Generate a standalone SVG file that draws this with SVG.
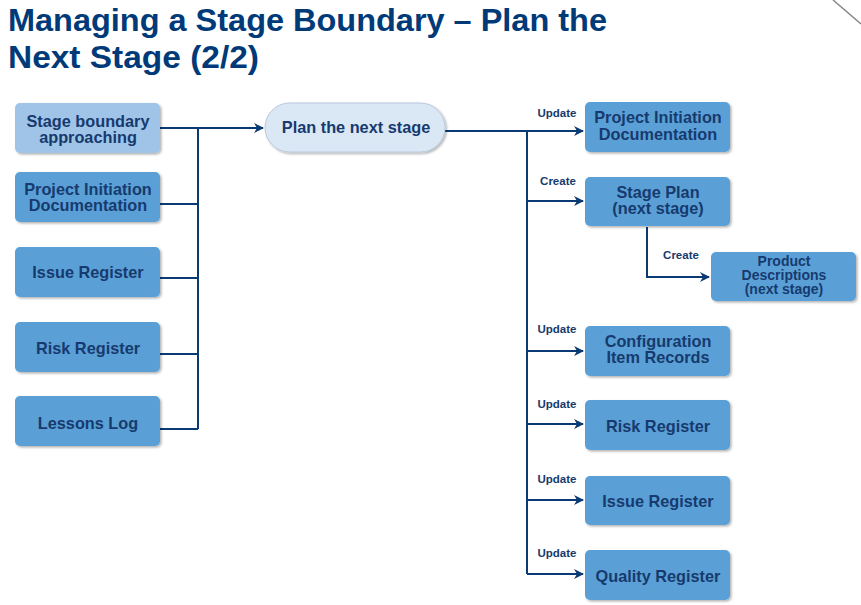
<svg xmlns="http://www.w3.org/2000/svg" width="861" height="605" viewBox="0 0 861 605">
<defs>
<filter id="sh" x="-10%" y="-10%" width="125%" height="130%">
<feDropShadow dx="1.5" dy="1.5" stdDeviation="1.2" flood-color="#000" flood-opacity="0.3"/>
</filter>
<marker id="ar" markerWidth="10" markerHeight="10" refX="9" refY="5" orient="auto" markerUnits="userSpaceOnUse">
<path d="M0,0 L10,5 L0,10 L3,5 Z" fill="#0a3a73"/>
</marker>
</defs>
<style>
.title{font-family:"Liberation Sans",Arial,sans-serif;font-weight:bold;font-size:31px;fill:#003a78}
.box{fill:#5aa0d6;filter:url(#sh)}
.lbox{fill:#9fc4e8;filter:url(#sh)}
.pill{fill:#dae7f4;stroke:#b8c9dc;stroke-width:1;filter:url(#sh)}
.t{font-family:"Liberation Sans",Arial,sans-serif;font-weight:bold;font-size:16.3px;fill:#173a6e;text-anchor:middle}
.ts{font-family:"Liberation Sans",Arial,sans-serif;font-weight:bold;font-size:14px;fill:#173a6e;text-anchor:middle}
.lab{font-family:"Liberation Sans",Arial,sans-serif;font-weight:bold;font-size:11.5px;fill:#173a6e;text-anchor:middle}
.c{fill:none;stroke:#0a3a73;stroke-width:2}
</style>
<rect width="861" height="605" fill="#fff"/>
<line x1="833" y1="0" x2="861" y2="24" stroke="#888" stroke-width="1.5"/>
<text class="title" x="8" y="31" textLength="599" lengthAdjust="spacingAndGlyphs">Managing a Stage Boundary – Plan the</text>
<text class="title" x="8" y="68" textLength="251" lengthAdjust="spacingAndGlyphs">Next Stage (2/2)</text>

<g id="connectors">
<path class="c" d="M160,128 H198 M160,204 H198 M160,278 H198 M160,354 H198 M160,429 H198 M198,128 V429"/>
<path class="c" d="M198,128 H263" marker-end="url(#ar)"/>
<path class="c" d="M445,131 H527 V574"/>
<path class="c" d="M527,131 H583" marker-end="url(#ar)"/>
<path class="c" d="M527,201 H583" marker-end="url(#ar)"/>
<path class="c" d="M527,351 H583" marker-end="url(#ar)"/>
<path class="c" d="M527,424 H583" marker-end="url(#ar)"/>
<path class="c" d="M527,500 H583" marker-end="url(#ar)"/>
<path class="c" d="M527,574 H583" marker-end="url(#ar)"/>
<path class="c" d="M647,227 V277 H709" marker-end="url(#ar)" stroke-width="1.5"/>
<text class="lab" x="557" y="117">Update</text>
<text class="lab" x="558" y="185">Create</text>
<text class="lab" x="681" y="259">Create</text>
<text class="lab" x="557" y="333">Update</text>
<text class="lab" x="557" y="408">Update</text>
<text class="lab" x="557" y="483">Update</text>
<text class="lab" x="557" y="557">Update</text>
</g>

<g id="n-sba"><rect class="lbox" x="15" y="103" width="145" height="50" rx="5"/><text class="t" x="88" y="127">Stage boundary<tspan x="88" dy="16">approaching</tspan></text></g>
<g id="n-pid-in"><rect class="box" x="15" y="172" width="145" height="50" rx="5"/><text class="t" x="88" y="195">Project Initiation<tspan x="88" dy="16">Documentation</tspan></text></g>
<g id="n-ir-in"><rect class="box" x="15" y="247" width="145" height="50" rx="5"/><text class="t" x="88" y="278">Issue Register</text></g>
<g id="n-rr-in"><rect class="box" x="15" y="322" width="145" height="50" rx="5"/><text class="t" x="88" y="354">Risk Register</text></g>
<g id="n-ll"><rect class="box" x="15" y="396" width="145" height="50" rx="5"/><text class="t" x="88" y="429">Lessons Log</text></g>

<g id="n-plan"><rect class="pill" x="265" y="103" width="180" height="49" rx="24.5"/><text class="t" x="356" y="133">Plan the next stage</text></g>

<g id="n-pid-out"><rect class="box" x="585" y="102" width="145" height="50" rx="5"/><text class="t" x="658" y="123">Project Initiation<tspan x="658" dy="17">Documentation</tspan></text></g>
<g id="n-sp"><rect class="box" x="585" y="177" width="145" height="49" rx="5"/><text class="t" x="658" y="198">Stage Plan<tspan x="658" dy="16">(next stage)</tspan></text></g>
<g id="n-pd"><rect class="box" x="711" y="252" width="145" height="49" rx="5"/><text class="ts" x="784" y="266">Product<tspan x="784" dy="14">Descriptions</tspan><tspan x="784" dy="14">(next stage)</tspan></text></g>
<g id="n-cir"><rect class="box" x="585" y="326" width="145" height="50" rx="5"/><text class="t" x="658" y="347">Configuration<tspan x="658" dy="16">Item Records</tspan></text></g>
<g id="n-rr-out"><rect class="box" x="585" y="400" width="145" height="50" rx="5"/><text class="t" x="658" y="432">Risk Register</text></g>
<g id="n-ir-out"><rect class="box" x="585" y="476" width="145" height="49" rx="5"/><text class="t" x="658" y="507">Issue Register</text></g>
<g id="n-qr"><rect class="box" x="585" y="550" width="145" height="50" rx="5"/><text class="t" x="658" y="582">Quality Register</text></g>
</svg>
